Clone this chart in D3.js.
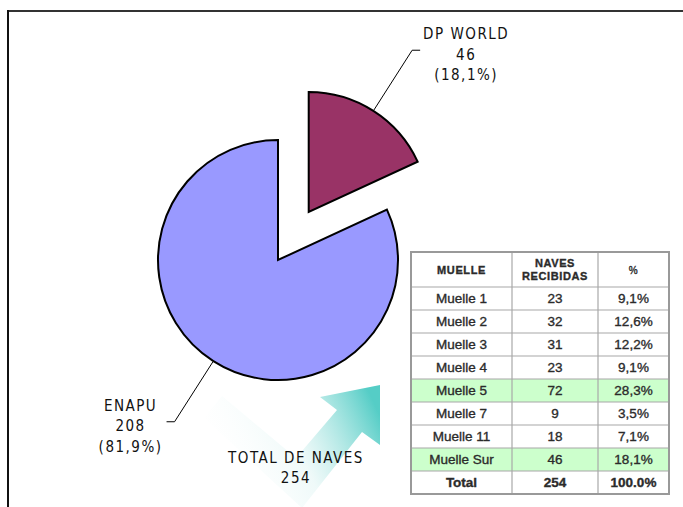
<!DOCTYPE html>
<html lang="es">
<head>
<meta charset="utf-8">
<script src="https://d3js.org/d3.v7.min.js"></script>
<style>
  body { margin: 0; background: #fff; }
  .lbl { font-family: "DejaVu Sans Condensed", "DejaVu Sans", sans-serif; font-size: 15px; fill: #111; letter-spacing: 1.5px; }
  .tbl { font-family: "Liberation Sans", Arial, sans-serif; fill: #2b2b2b; stroke: #2b2b2b; stroke-width: 0.35px; }
</style>
</head>
<body>
<div id="chart"></div>
<script>
// pie data
const empresas = ['DP WORLD', 'ENAPU'];
const naves = [46, 208];
const porcentajes = ['18,1%', '81,9%'];
const colores = ['#993366', '#9999FF'];
const totalNaves = 254;

// table data
const muelles = ['Muelle 1', 'Muelle 2', 'Muelle 3', 'Muelle 4', 'Muelle 5', 'Muelle 7', 'Muelle 11', 'Muelle Sur'];
const navesMuelle = [23, 32, 31, 23, 72, 9, 18, 46];
const pctMuelle = ['9,1%', '12,6%', '12,2%', '9,1%', '28,3%', '3,5%', '7,1%', '18,1%'];
const destacados = ['Muelle 5', 'Muelle Sur'];

const width = 683, height = 507;
const svg = d3.select('#chart').append('svg')
  .attr('width', width).attr('height', height);

// frame
svg.append('line').attr('x1', 7).attr('x2', width).attr('y1', 11).attr('y2', 11)
  .attr('stroke', '#333').attr('stroke-width', 2);
svg.append('line').attr('x1', 8).attr('x2', 8).attr('y1', 10).attr('y2', height)
  .attr('stroke', '#111').attr('stroke-width', 2);

// gradient arrow (decoration)
const defs = svg.append('defs');
const grad = defs.append('linearGradient').attr('id', 'arrowGrad')
  .attr('gradientUnits', 'userSpaceOnUse')
  .attr('x1', 215).attr('y1', 480).attr('x2', 375).attr('y2', 405);
grad.append('stop').attr('offset', 0).attr('stop-color', '#ffffff').attr('stop-opacity', 0);
grad.append('stop').attr('offset', 0.5).attr('stop-color', '#e4f6f5').attr('stop-opacity', 0.6);
grad.append('stop').attr('offset', 1).attr('stop-color', '#55cdc6');

svg.append('path')
  .attr('d', 'M204,418 L222,396 L296,458 L337,410 L320,397 L380,385 L380,445 L362,432 L302,508 Z')
  .attr('fill', 'url(#arrowGrad)');

// pie
const cx = 278, cy = 260, r = 120, explode = 57;
const pie = d3.pie().sort(null).value(d => d.v);
const arcs = pie(empresas.map((e, i) => ({ e, v: naves[i], p: porcentajes[i], c: colores[i] })));
const arc = d3.arc().innerRadius(0).outerRadius(r);
const mid = d => (d.startAngle + d.endAngle) / 2;
const off = (d, k) => [Math.sin(mid(d)) * k, -Math.cos(mid(d)) * k];

const g = svg.append('g').attr('transform', `translate(${cx},${cy})`);
g.selectAll('path.slice').data(arcs).join('path')
  .attr('class', 'slice')
  .attr('transform', (d, i) => {
    const [dx, dy] = i === 0 ? off(d, explode) : [0, 0];
    return `translate(${dx},${dy})`;
  })
  .attr('d', arc)
  .attr('fill', d => d.data.c)
  .attr('stroke', '#000')
  .attr('stroke-width', 2)
  .attr('stroke-linejoin', 'miter');

// leader lines + labels
const labelGap = [46, 36];
arcs.forEach((d, i) => {
  const [ox, oy] = i === 0 ? off(d, explode) : [0, 0];
  const [x0, y0] = off(d, r + 1);
  const [x1, y1] = off(d, 192);
  const side = Math.sin(mid(d)) > 0 ? 1 : -1;
  const x2 = x1 + side * 8;
  g.append('polyline')
    .attr('points', [[x0 + ox, y0 + oy], [x1 + ox, y1 + oy], [x2 + ox, y1 + oy]].map(p => p.join(',')).join(' '))
    .attr('fill', 'none').attr('stroke', '#000').attr('stroke-width', 1);
  const tx = x2 + ox + side * labelGap[i];
  const ty = y1 + oy - 20;
  const t = g.append('text').attr('class', 'lbl').attr('text-anchor', 'middle');
  [d.data.e, String(d.data.v), `(${d.data.p})`].forEach((s, k) => {
    t.append('tspan').attr('x', tx).attr('y', ty + k * 20.5).attr('dy', '0.6em').text(s);
  });
});

const tt = svg.append('text').attr('class', 'lbl').attr('text-anchor', 'middle');
tt.append('tspan').attr('x', 296).attr('y', 457).attr('dy', '0.38em').text('TOTAL DE NAVES');
tt.append('tspan').attr('x', 296).attr('y', 477).attr('dy', '0.38em').text(String(totalNaves));

// table
const tbl = svg.append('g');
const colX = [411, 512, 598, 669];
const headerTop = 252, headerBottom = 287, rowH = 23;
const rows = muelles.map((m, i) => ({ m, n: String(navesMuelle[i]), p: pctMuelle[i], bold: false, hl: destacados.includes(m) }));
rows.push({ m: 'Total', n: String(d3.sum(navesMuelle)), p: '100.0%', bold: true, hl: false });
const y = d3.scaleBand().domain(d3.range(rows.length))
  .range([headerBottom, headerBottom + rowH * rows.length]);

tbl.selectAll('rect.hl').data(rows.filter(d => d.hl)).join('rect')
  .attr('class', 'hl')
  .attr('x', colX[0]).attr('width', colX[3] - colX[0])
  .attr('y', d => y(rows.indexOf(d))).attr('height', y.bandwidth())
  .attr('fill', '#ccffcc');

const bottom = headerBottom + rowH * rows.length;
// grid
const hLines = [headerTop, headerBottom].concat(d3.range(1, rows.length + 1).map(i => y(i - 1) + y.bandwidth()));
tbl.selectAll('line.h').data(hLines).join('line').attr('class', 'h')
  .attr('x1', colX[0]).attr('x2', colX[3]).attr('y1', d => d).attr('y2', d => d)
  .attr('stroke', '#a8a8a8').attr('stroke-width', 1.2);
tbl.selectAll('line.v').data(colX).join('line').attr('class', 'v')
  .attr('x1', d => d).attr('x2', d => d).attr('y1', headerTop).attr('y2', bottom)
  .attr('stroke', '#a8a8a8').attr('stroke-width', 1.2);
tbl.append('rect').attr('x', colX[0]).attr('y', headerTop)
  .attr('width', colX[3] - colX[0]).attr('height', bottom - headerTop)
  .attr('fill', 'none').attr('stroke', '#999').attr('stroke-width', 2);

const colMid = i => (colX[i] + colX[i + 1]) / 2;
// header
const hdr = tbl.append('g').attr('class', 'tbl').style('font-weight', 'bold').style('font-size', '11px').style('letter-spacing', '0.6px');
hdr.append('text').attr('x', colMid(0)).attr('y', 270).attr('dy', '0.35em').attr('text-anchor', 'middle').text('MUELLE');
hdr.append('text').attr('x', colMid(1)).attr('y', 263).attr('dy', '0.35em').attr('text-anchor', 'middle').text('NAVES');
hdr.append('text').attr('x', colMid(1)).attr('y', 276).attr('dy', '0.35em').attr('text-anchor', 'middle').text('RECIBIDAS');
hdr.append('text').attr('x', colMid(2)).attr('y', 270).attr('dy', '0.35em').attr('text-anchor', 'middle')
  .style('font-weight', 'normal').style('font-size', '10px').text('%');

const rowG = tbl.selectAll('g.row').data(rows).join('g').attr('class', 'row tbl')
  .attr('transform', (d, i) => `translate(0,${y(i) + y.bandwidth() / 2})`)
  .style('font-size', '13.5px')
  .style('font-weight', d => d.bold ? 'bold' : 'normal');
['m', 'n', 'p'].forEach((k, ci) => {
  rowG.append('text').attr('x', colMid(ci)).attr('dy', '0.36em')
    .attr('text-anchor', 'middle').text(d => d[k]);
});
</script>
</body>
</html>
